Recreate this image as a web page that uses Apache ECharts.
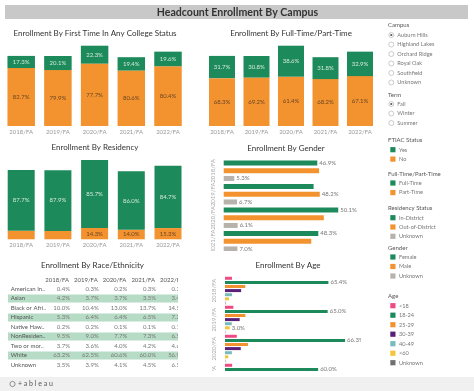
<!DOCTYPE html>
<html><head><meta charset="utf-8">
<script src="https://cdn.jsdelivr.net/npm/echarts@6/dist/echarts.min.js"></script>
<style>
html,body{margin:0;padding:0;background:#fff;width:474px;height:391px;overflow:hidden;}
.abs{position:absolute;}
.clip{position:absolute;overflow:hidden;}
</style></head><body>
<div id="bg" class="abs" style="left:0;top:0;width:474px;height:391px;"></div>
<div id="c1" class="abs" style="left:0;top:0;width:195px;height:140px;"></div>
<div id="c2" class="abs" style="left:195px;top:0;width:190px;height:140px;"></div>
<div id="c3" class="abs" style="left:0;top:135px;width:195px;height:120px;"></div>
<div class="clip" style="left:195px;top:155px;width:166px;height:96px;"><div id="c4" style="width:166px;height:200px;"></div></div>
<div class="clip" style="left:195px;top:270px;width:166px;height:101px;"><div id="c5" style="width:166px;height:200px;"></div></div>
<div class="clip" style="left:0;top:270px;width:177.5px;height:102px;"><div id="c6" style="width:200px;height:110px;"></div></div>
<script>
// ---------------- DATA ----------------
const dashboardTitle = 'Headcount Enrollment By Campus';
const years = ['2018/FA', '2019/FA', '2020/FA', '2021/FA', '2022/FA'];
const headcount = [8720, 8710, 9990, 8560, 9250];

const ftiacYesPct = [17.3, 20.1, 22.3, 19.4, 19.6];
const ftiacNoPct = [82.7, 79.9, 77.7, 80.6, 80.4];

const fullTimePct = [31.7, 30.8, 38.6, 31.8, 32.9];
const partTimePct = [68.3, 69.2, 61.4, 68.2, 67.1];

const inDistrictPct = [87.7, 87.9, 85.7, 86.0, 84.7];
const outDistrictPct = [12.3, 12.1, 14.3, 14.0, 15.3];
const outDistrictLabelShown = [false, false, true, true, true];

const genderFemalePct = [46.9, 45.1, 50.1, 48.3, 49.0];
const genderMalePct = [47.8, 48.2, 43.8, 44.7, 44.5];
const genderUnknownPct = [5.3, 6.7, 6.1, 7.0, 6.5];
const femaleLabelShown = [true, false, true, true, true];
const maleLabelShown = [false, true, false, false, false];
const genderUnknownLabelShown = [true, true, true, true, true];

const ageGroups = ['<18', '18-24', '25-29', '30-39', '40-49', '>60', 'Unknown'];
const ageUnder18Pct = [4.4, 5.3, 6.5, 4.6, 5.0];
const age18to24Pct = [65.4, 65.0, 66.3, 60.0, 57.0];
const age25to29Pct = [12.8, 12.9, 12.7, 13.1, 14.0];
const age30to39Pct = [10.2, 9.3, 8.7, 11.5, 12.5];
const age40to49Pct = [4.4, 4.3, 3.8, 5.8, 6.0];
const ageOver60Pct = [2.5, 3.0, 1.8, 4.6, 5.0];
const ageUnknownPct = [0.3, 0.2, 0.2, 0.4, 0.5];
const age18to24LabelShown = [true, true, true, true, true];
const ageOver60LabelShown = [false, true, false, false, false];

const raceNames = ['American Indian or Alaska Native', 'Asian', 'Black or African American', 'Hispanic',
  'Native Hawaiian or Other Pacific Islander', 'NonResident Alien', 'Two or more races', 'White', 'Unknown'];
const race2018 = [0.4, 4.2, 10.0, 5.3, 0.2, 9.5, 3.7, 63.2, 3.5];
const race2019 = [0.3, 3.7, 10.4, 6.4, 0.2, 9.0, 3.6, 62.5, 3.9];
const race2020 = [0.2, 3.7, 13.0, 6.4, 0.1, 7.7, 4.0, 60.6, 4.1];
const race2021 = [0.3, 3.5, 13.7, 6.5, 0.1, 7.3, 4.2, 60.0, 4.5];
const race2022 = [0.3, 3.4, 14.5, 7.2, 0.1, 6.5, 4.6, 56.9, 6.5];

const campusOptions = ['Auburn Hills', 'Highland Lakes', 'Orchard Ridge', 'Royal Oak', 'Southfield', 'Unknown'];
const termOptions = ['Fall', 'Winter', 'Summer'];
const ftiacLegend = ['Yes', 'No'];
const ftptLegend = ['Full-Time', 'Part-Time'];
const residencyLegend = ['In-District', 'Out-of-District', 'Unknown'];
const genderLegend = ['Female', 'Male', 'Unknown'];

// ---------------- STYLE ----------------
const FONT = 'Lato, "Liberation Sans", sans-serif';
const GREEN = '#1c8a5a', ORANGE = '#f3932f', GRAY = '#b8b2ad';
const AGE_COLORS = ['#ee4a83', GREEN, ORANGE, '#5a1f78', '#76bcbc', '#f2c53d', '#707070'];
const LIGHT_LBL = '#d3e8da', DARK_LBL = '#6b4524';
const BAND = '#b7dcc6';

const counts = pct => pct.map((p, i) => headcount[i] * p / 100);
const pctFmt = v => v.toFixed(1) + '%';

// ---------------- BACKGROUND (titles, legends, footer) ----------------
const els = [];
els.push({type: 'rect', shape: {x: 5, y: 5, width: 463, height: 14}, style: {fill: '#c8c8c8'}});
els.push({type: 'text', x: 237.5, y: 12.5, style: {text: dashboardTitle, fill: '#333', font: 'bold 10.6px ' + FONT, align: 'center', verticalAlign: 'middle'}});
const chartTitles = [
  ['Enrollment By First Time In Any College Status', 95, 33],
  ['Enrollment By Full-Time/Part-Time', 291, 33],
  ['Enrollment By Residency', 95, 147.7],
  ['Enrollment By Gender', 286, 148.3],
  ['Enrollment By Race/Ethnicity', 92.5, 265.7],
  ['Enrollment By Age', 288, 265]
];
chartTitles.forEach(t => els.push({type: 'text', x: t[1], y: t[2], style: {text: t[0], fill: '#333', font: '8px ' + FONT, align: 'center', verticalAlign: 'middle'}}));

function header(txt, y) {
  els.push({type: 'text', x: 388, y: y, style: {text: txt, fill: '#555', font: '6px ' + FONT, align: 'left', verticalAlign: 'middle'}});
}
function radios(list, y0, step) {
  list.forEach((t, i) => {
    const y = y0 + i * step;
    els.push({type: 'circle', shape: {cx: 391.3, cy: y, r: 2.5}, style: {fill: '#fff', stroke: '#aaa', lineWidth: 0.6}});
    if (i === 0) els.push({type: 'circle', shape: {cx: 391.3, cy: y, r: 1.1}, style: {fill: '#555'}});
    els.push({type: 'text', x: 397.3, y: y, style: {text: t, fill: '#777', font: '5.6px ' + FONT, align: 'left', verticalAlign: 'middle'}});
  });
}
function swatches(list, colors, y0, step) {
  list.forEach((t, i) => {
    const y = y0 + i * step;
    els.push({type: 'rect', shape: {x: 390.3, y: y - 2.6, width: 5.2, height: 5.2}, style: {fill: colors[i]}});
    els.push({type: 'text', x: 399, y: y, style: {text: t, fill: '#777', font: '5.6px ' + FONT, align: 'left', verticalAlign: 'middle'}});
  });
}
header('Campus', 25); radios(campusOptions, 35, 9.5);
header('Term', 95); radios(termOptions, 104, 9.5);
header('FTIAC Status', 140); swatches(ftiacLegend, [GREEN, ORANGE], 149.7, 9.4);
header('Full-Time/Part-Time', 174); swatches(ftptLegend, [GREEN, ORANGE], 183, 9.6);
header('Residency Status', 208); swatches(residencyLegend, [GREEN, ORANGE, GRAY], 217.7, 9.3);
header('Gender', 247.7); swatches(genderLegend, [GREEN, ORANGE, GRAY], 257, 9.5);
header('Age', 296); swatches(ageGroups, AGE_COLORS, 305.7, 9.5);

els.push({type: 'rect', shape: {x: 0, y: 377, width: 474, height: 14}, style: {fill: '#f0f0f0'}});
els.push({type: 'circle', shape: {cx: 12.5, cy: 384, r: 2.6}, style: {fill: 'none', stroke: '#777', lineWidth: 0.8}});
els.push({type: 'text', x: 18, y: 384, style: {text: '+ a b l e a u', fill: '#555', font: '7px ' + FONT, align: 'left', verticalAlign: 'middle'}});

const bg = echarts.init(document.getElementById('bg'));
bg.setOption({animation: false, graphic: {elements: els}});

// ---------------- STACKED COLUMN CHARTS ----------------
function stackedOption(grid, barWidth, bottomPct, bottomColor, topPct, topColor, bottomShown) {
  return {
    animation: false,
    textStyle: {fontFamily: FONT},
    grid: grid,
    xAxis: {type: 'category', data: years, axisLine: {show: false}, axisTick: {show: false},
      axisLabel: {interval: 0, color: '#999', fontSize: 6, margin: 2.7, fontFamily: FONT}},
    yAxis: {type: 'value', max: 'dataMax', show: false, splitLine: {show: false}},
    series: [
      {type: 'bar', stack: 's', barWidth: barWidth, itemStyle: {color: bottomColor},
        data: counts(bottomPct).map((v, i) => ({value: v, label: {show: bottomShown ? bottomShown[i] : true}})),
        label: {show: true, position: 'inside', fontSize: 6, fontFamily: FONT,
          color: bottomColor === ORANGE ? DARK_LBL : LIGHT_LBL, formatter: p => pctFmt(bottomPct[p.dataIndex])}},
      {type: 'bar', stack: 's', barWidth: barWidth, itemStyle: {color: topColor},
        data: counts(topPct),
        label: {show: true, position: 'inside', fontSize: 6, fontFamily: FONT,
          color: topColor === ORANGE ? DARK_LBL : LIGHT_LBL, formatter: p => pctFmt(topPct[p.dataIndex])}}
    ]
  };
}
echarts.init(document.getElementById('c1')).setOption(
  stackedOption({left: 2.85, top: 45.7, width: 183.5, height: 80.3}, 27.5, ftiacNoPct, ORANGE, ftiacYesPct, GREEN));
echarts.init(document.getElementById('c2')).setOption(
  stackedOption({left: 9.75, top: 45.7, width: 172.5, height: 80.3}, 26, partTimePct, ORANGE, fullTimePct, GREEN));
echarts.init(document.getElementById('c3')).setOption(
  stackedOption({left: 2.85, top: 25, width: 183.5, height: 79.3}, 27, outDistrictPct, ORANGE, inDistrictPct, GREEN, outDistrictLabelShown));

// ---------------- HORIZONTAL GROUPED BARS ----------------
function hbarSeries(pct, color, shown, barWidth, barGap) {
  return {type: 'bar', barWidth: barWidth, barGap: barGap, itemStyle: {color: color},
    data: counts(pct).map((v, i) => ({value: v, label: {show: shown ? shown[i] : false}})),
    label: {show: false, position: 'right', distance: 2, fontSize: 6, color: '#777', fontFamily: FONT,
      formatter: p => pctFmt(pct[p.dataIndex])}};
}
function hbarOption(grid, xmax, series) {
  return {
    animation: false,
    textStyle: {fontFamily: FONT},
    grid: grid,
    yAxis: {type: 'category', data: years, inverse: true, axisLine: {show: false}, axisTick: {show: false},
      axisLabel: {interval: 0, rotate: 90, color: '#aaa', fontSize: 6, margin: 8, fontFamily: FONT}},
    xAxis: {type: 'value', max: xmax, show: false, splitLine: {show: false}},
    series: series
  };
}
echarts.init(document.getElementById('c4')).setOption(hbarOption(
  {left: 28.7, top: 4, width: 139.8, height: 117.5}, 6000, [
    hbarSeries(genderFemalePct, GREEN, femaleLabelShown, 5, '54%'),
    hbarSeries(genderMalePct, ORANGE, maleLabelShown, 5, '54%'),
    hbarSeries(genderUnknownPct, GRAY, genderUnknownLabelShown, 5, '54%')
  ]));

const agePctList = [ageUnder18Pct, age18to24Pct, age25to29Pct, age30to39Pct, age40to49Pct, ageOver60Pct, ageUnknownPct];
const ageShownList = [null, age18to24LabelShown, null, null, null, ageOver60LabelShown, null];
echarts.init(document.getElementById('c5')).setOption(hbarOption(
  {left: 30, top: 6.1, width: 138, height: 145}, 7500,
  agePctList.map((p, k) => Object.assign(hbarSeries(p, AGE_COLORS[k], ageShownList[k], 3, '37%'), {name: ageGroups[k]}))));

// ---------------- RACE / ETHNICITY TABLE ----------------
const raceCols = [race2018, race2019, race2020, race2021, race2022];
const cells = [];
raceCols.forEach((col, c) => col.forEach((v, r) => cells.push([c, r, v])));
const bandRows = raceNames.map((n, r) => [0, r]).filter(d => d[1] % 2 === 1);

echarts.init(document.getElementById('c6')).setOption({
  animation: false,
  textStyle: {fontFamily: FONT},
  grid: {left: 42.8, top: 14.25, width: 143.5, height: 85.5},
  xAxis: {type: 'category', data: years, position: 'top', axisLine: {show: false}, axisTick: {show: false},
    axisLabel: {interval: 0, color: '#555', fontSize: 6, margin: 1.5, fontFamily: FONT}},
  yAxis: {type: 'category', data: raceNames, inverse: true, z: 10, axisLine: {show: false}, axisTick: {show: false},
    axisLabel: {interval: 0, align: 'left', margin: 32.1, color: '#555', fontSize: 6, fontFamily: FONT,
      width: 37, overflow: 'truncate', ellipsis: '..'}},
  series: [
    {type: 'custom', z: 1, clip: false, data: bandRows, encode: {x: 0, y: 1},
      renderItem: (params, api) => {
        const cs = params.coordSys;
        const c = api.coord([api.value(0), api.value(1)]);
        const h = api.size([0, 1])[1];
        return {type: 'rect', shape: {x: 8, y: c[1] - h / 2 + 0.8, width: cs.x + cs.width - 8, height: h - 1.6},
          style: {fill: BAND}};
      }},
    {type: 'custom', z: 3, clip: false, data: cells, encode: {x: 0, y: 1},
      renderItem: (params, api) => {
        const c = api.coord([api.value(0), api.value(1)]);
        const w = api.size([1, 0])[0];
        return {type: 'text', x: c[0] + w / 2 - 1.5, y: c[1],
          style: {text: pctFmt(api.value(2)), fill: '#777', font: '6px ' + FONT, align: 'right', verticalAlign: 'middle'}};
      }}
  ]
});
</script>
</body></html>
